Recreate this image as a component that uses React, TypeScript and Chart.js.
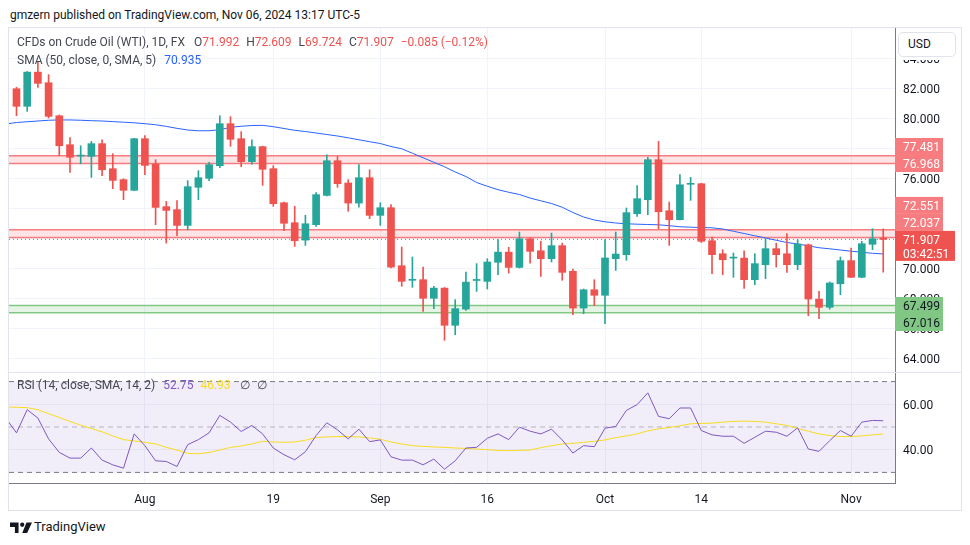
import React, { useEffect, useRef } from "react";
import { Chart, registerables } from "chart.js";

Chart.register(...registerables);

const FONT = "Roboto, 'Noto Sans', sans-serif";
const UP = "#26a69a";
const DOWN = "#ef5350";
const X_MIN = -0.7;
const X_MAX = 82.1;

// x-axis tick positions (bar index) and labels
const tickIndex = [12, 24, 34, 44, 55, 64, 78];
const tickLabels = ["Aug", "19", "Sep", "16", "Oct", "14", "Nov"];

// Daily OHLC, Jul 16 → Nov 6 2024
const opens = [81.95, 80.78, 83.06, 82.35, 80.15, 78.22, 77.46, 77.44, 78.29, 76.62,
  75.89, 75.18, 78.62, 76.93, 74.09, 73.89, 72.84, 75.38, 75.98, 76.82,
  79.62, 78.62, 77.09, 78.09, 76.62, 74.35, 73.02, 71.86, 72.89, 74.84,
  77.15, 75.67, 74.33, 76.02, 73.51, 74.02, 70.15, 69.18, 69.22, 67.98,
  68.66, 66.18, 67.26, 69.17, 69.11, 70.38, 71.06, 70.04, 71.95, 71.15,
  70.62, 71.49, 69.78, 67.33, 68.55, 68.18, 70.62, 70.89, 73.62, 74.55,
  77.22, 73.82, 73.22, 75.58, 75.62, 71.82, 70.95, 70.66, 70.66, 69.22,
  70.22, 71.29, 70.95, 70.22, 71.55, 67.93, 67.38, 68.95, 70.49, 69.38,
  71.58, 71.992];
const highs = [82.05, 83.1, 83.78, 82.89, 80.2, 78.69, 78.15, 78.44, 78.55, 77.62,
  75.95, 78.65, 78.82, 77.22, 74.44, 74.49, 75.82, 76.49, 77.04, 80.15,
  80.09, 79.09, 78.55, 78.12, 76.82, 74.4, 74.11, 73.51, 75.02, 77.55,
  77.44, 75.89, 76.89, 76.55, 74.35, 74.22, 71.4, 70.73, 70.06, 68.78,
  68.7, 67.89, 69.73, 70.29, 70.62, 71.89, 71.38, 72.4, 72.0, 71.78,
  72.33, 71.66, 69.93, 68.6, 69.22, 71.89, 72.4, 74.0, 75.49, 77.38,
  78.44, 74.4, 76.22, 76.04, 75.65, 72.06, 71.22, 71.0, 71.15, 70.95,
  71.95, 71.66, 72.29, 71.89, 71.6, 68.44, 69.07, 70.73, 71.33, 71.78,
  72.62, 72.609];
const lows = [80.15, 80.44, 82.04, 80.0, 77.49, 76.38, 76.95, 76.04, 76.15, 75.29,
  74.55, 75.15, 76.22, 72.89, 71.66, 72.15, 72.55, 74.55, 75.82, 76.69,
  78.11, 76.75, 76.93, 75.51, 74.11, 72.49, 71.44, 71.51, 72.78, 74.8,
  75.38, 73.78, 74.06, 73.29, 72.84, 70.0, 68.78, 68.71, 67.11, 67.29,
  65.18, 65.55, 67.18, 68.44, 68.6, 69.55, 69.66, 70.0, 70.33, 69.44,
  70.4, 69.18, 66.89, 66.95, 67.49, 66.29, 69.84, 70.51, 73.44, 73.55,
  72.62, 71.51, 73.2, 74.51, 71.7, 69.62, 69.55, 69.38, 68.64, 68.89,
  69.29, 70.06, 69.71, 69.89, 66.82, 66.62, 67.26, 68.22, 69.35, 69.35,
  71.22, 69.724];
const closes = [80.78, 83.06, 82.31, 80.11, 78.15, 77.38, 77.5, 78.29, 76.55, 75.84,
  75.18, 78.62, 76.84, 74.04, 73.84, 72.84, 75.42, 76.02, 76.89, 79.62,
  78.58, 77.09, 78.09, 76.58, 74.29, 72.98, 71.82, 72.95, 74.89, 77.15,
  75.62, 74.33, 76.02, 73.51, 74.02, 70.06, 69.11, 69.22, 67.98, 68.66,
  66.18, 67.29, 69.06, 69.22, 70.4, 71.06, 70.04, 71.95, 71.11, 70.62,
  71.49, 69.71, 67.33, 68.55, 68.18, 70.67, 70.93, 73.69, 74.62, 77.22,
  73.75, 73.22, 75.55, 75.62, 71.78, 70.89, 70.55, 70.7, 69.22, 70.29,
  71.29, 70.89, 70.22, 71.6, 67.93, 67.38, 69.0, 70.49, 69.38, 71.62,
  71.95, 71.907];

// SMA(50) values, first entry is the bar before the first visible one
const SERIES_START = -1;
const sma50 = [79.6,
  79.7, 79.75, 79.8, 79.85, 79.87, 79.87, 79.85, 79.82, 79.8, 79.76,
  79.72, 79.68, 79.62, 79.55, 79.44, 79.31, 79.2, 79.15, 79.15, 79.22,
  79.38, 79.45, 79.5, 79.51, 79.42, 79.3, 79.18, 79.1, 79.0, 78.9,
  78.8, 78.68, 78.55, 78.42, 78.3, 78.1, 77.95, 77.65, 77.35, 77.05,
  76.75, 76.4, 76.1, 75.7, 75.45, 75.22, 75.05, 74.9, 74.66, 74.48,
  74.3, 74.05, 73.7, 73.4, 73.2, 73.08, 73.0, 72.95, 72.92, 72.9,
  72.88, 72.82, 72.75, 72.72, 72.7, 72.68, 72.6, 72.45, 72.3, 72.15,
  72.0, 71.85, 71.7, 71.6, 71.48, 71.35, 71.28, 71.2, 71.12, 71.05,
  70.98, 70.935];

// RSI(14) and its SMA(14)
const rsi = [53.9,
  47.41, 57.63, 53.93, 44.74, 38.81, 36.3, 36.3, 40.74, 35.41, 33.33,
  31.85, 46.96, 41.78, 35.11, 34.81, 32.59, 42.22, 44.44, 47.41, 55.11,
  52.15, 48.0, 50.67, 46.96, 40.74, 37.78, 35.56, 39.11, 46.22, 51.85,
  48.74, 44.74, 49.04, 43.56, 44.3, 36.89, 35.41, 35.41, 33.33, 35.85,
  31.41, 35.11, 40.74, 41.04, 45.04, 46.96, 44.44, 49.93, 48.15, 46.96,
  49.04, 44.3, 38.52, 41.78, 41.33, 49.48, 50.22, 57.33, 59.85, 65.04,
  54.67, 53.63, 58.37, 58.37, 48.44, 46.52, 45.93, 45.93, 42.81, 45.48,
  48.15, 47.7, 45.93, 49.63, 40.3, 39.26, 44.0, 48.44, 45.93, 52.15,
  52.89, 52.75];
const rsiMa = [58.8,
  58.67, 58.5, 57.6, 55.85, 54.2, 52.44, 50.81, 49.33, 47.85, 46.07,
  44.44, 43.85, 43.26, 42.52, 41.04, 39.85, 38.37, 38.22, 38.81, 39.85,
  41.04, 41.63, 42.52, 43.7, 43.4, 43.26, 43.4, 44.15, 45.33, 45.63,
  45.78, 45.78, 45.63, 45.19, 44.59, 43.4, 42.52, 41.78, 41.48, 41.19,
  41.04, 40.74, 40.59, 40.3, 40.0, 39.7, 39.56, 39.7, 39.85, 40.89,
  41.78, 42.52, 42.81, 43.26, 43.7, 44.3, 45.33, 46.07, 46.96, 48.3,
  49.19, 49.78, 50.52, 51.41, 51.56, 51.7, 52.15, 52.44, 52.59, 52.44,
  52.15, 51.41, 50.67, 49.33, 48.15, 46.96, 46.22, 45.78, 45.78, 46.07,
  46.52, 46.93];

const resistanceZones = [[76.968, 77.481], [72.037, 72.551]];
const supportZones = [[67.016, 67.499]];
const lastPrice = 71.907;
const countdown = "03:42:51";
const priceTicks = [64, 66, 68, 70, 72, 74, 76, 78, 80, 82, 84];
const rsiTicks = [40, 60];
const rsiBand = [30, 70];
const rsiMid = 50;

const RED_ZONE_LINE = "#f77c80";
const RED_ZONE_FILL = "rgba(247,124,128,0.2)";
const GREEN_ZONE_LINE = "#81c784";
const GREEN_ZONE_FILL = "rgba(129,199,132,0.2)";
const GRID = "#f0f3fa";
const AXIS_LINE = "#787b86";
const TEXT = "#131722";

const hLine = (y: number) => [{ x: X_MIN, y }, { x: X_MAX, y }];

const priceLabelPlugin = {
  id: "priceLabels",
  afterDraw(chart: any) {
    const ctx = chart.ctx;
    const ys = chart.scales.y;
    const x0 = chart.chartArea.right;
    const H = 17;
    ctx.save();
    ctx.font = `12px ${FONT}`;
    ctx.textBaseline = "middle";
    ctx.textAlign = "left";
    const cy = ys.getPixelForValue(lastPrice);
    const curTop = cy - 8.5;
    const curBot = curTop + 30;
    const items: { v: number; bg: string; fg: string }[] = [];
    resistanceZones.forEach((z) => z.forEach((v) => items.push({ v, bg: RED_ZONE_LINE, fg: "#ffffff" })));
    supportZones.forEach((z) => z.forEach((v) => items.push({ v, bg: GREEN_ZONE_LINE, fg: TEXT })));
    const drawBox = (c: number, it: { v: number; bg: string; fg: string }) => {
      ctx.fillStyle = it.bg;
      ctx.fillRect(x0, c - H / 2, 48, H);
      ctx.fillStyle = it.fg;
      ctx.fillText(it.v.toFixed(3), x0 + 8, c + 1.5);
    };
    const above = items.filter((i) => i.v > lastPrice).sort((a, b) => a.v - b.v);
    let limit = curTop;
    above.forEach((it) => {
      let c = ys.getPixelForValue(it.v);
      if (c + H / 2 > limit) c = limit - H / 2;
      drawBox(c, it);
      limit = c - H / 2;
    });
    const below = items.filter((i) => i.v < lastPrice).sort((a, b) => b.v - a.v);
    let limitB = curBot;
    below.forEach((it) => {
      let c = ys.getPixelForValue(it.v);
      if (c - H / 2 < limitB) c = limitB + H / 2;
      drawBox(c, it);
      limitB = c + H / 2;
    });
    ctx.fillStyle = DOWN;
    ctx.fillRect(x0, curTop, 60, 30);
    ctx.fillStyle = "#ffffff";
    ctx.fillText(lastPrice.toFixed(3), x0 + 8, cy + 1.5);
    ctx.fillText(countdown, x0 + 8, cy + 15.5);
    ctx.restore();
  },
};

export default function App() {
  const priceRef = useRef<HTMLCanvasElement | null>(null);
  const rsiRef = useRef<HTMLCanvasElement | null>(null);

  useEffect(() => {
    const n = opens.length;
    const idx = Array.from({ length: n }, (_, i) => i);
    const colors = idx.map((i) => (closes[i] >= opens[i] ? UP : DOWN));

    const zoneSets: any[] = [];
    const addZone = (lo: number, hi: number, line: string, fill: string) => {
      zoneSets.push({ type: "line", data: hLine(lo), borderColor: line, borderWidth: 1.5, pointRadius: 0, fill: false, order: 10 });
      zoneSets.push({ type: "line", data: hLine(hi), borderColor: line, borderWidth: 1.5, pointRadius: 0, fill: "-1", backgroundColor: fill, order: 10 });
    };
    resistanceZones.forEach(([lo, hi]) => addZone(lo, hi, RED_ZONE_LINE, RED_ZONE_FILL));
    supportZones.forEach(([lo, hi]) => addZone(lo, hi, GREEN_ZONE_LINE, GREEN_ZONE_FILL));

    const xScale = (showLabels: boolean) => ({
      type: "linear",
      min: X_MIN,
      max: X_MAX,
      offset: false,
      afterBuildTicks: (s: any) => {
        s.ticks = tickIndex.map((v) => ({ value: v }));
      },
      afterFit: (s: any) => {
        s.paddingLeft = 0;
        s.paddingRight = 0;
        if (!showLabels) s.height = 0;
        else s.height = 27;
      },
      grid: { color: GRID, offset: false, drawTicks: false },
      border: { display: showLabels, color: AXIS_LINE },
      ticks: {
        display: showLabels,
        autoSkip: false,
        maxRotation: 0,
        padding: 10,
        color: TEXT,
        font: { family: FONT, size: 12 },
        callback: (_v: any, i: number) => tickLabels[i],
      },
    });

    const yTicks = (digits: number) => ({
      padding: 8,
      labelOffset: 1.5,
      color: TEXT,
      font: { family: FONT, size: 12 },
      callback: (v: any) => Number(v).toFixed(digits),
    });

    const price = new Chart(priceRef.current as HTMLCanvasElement, {
      type: "bar",
      data: {
        datasets: [
          ...zoneSets,
          {
            type: "line",
            data: hLine(lastPrice),
            borderColor: DOWN,
            borderWidth: 1,
            borderDash: [1, 3],
            pointRadius: 0,
            fill: false,
            order: 9,
          },
          {
            type: "line",
            data: sma50.map((v, k) => ({ x: k + SERIES_START, y: v })),
            borderColor: "#2962ff",
            borderWidth: 1,
            pointRadius: 0,
            fill: false,
            order: 5,
          },
          {
            type: "bar",
            data: idx.map((i) => ({ x: i, y: [lows[i], highs[i]] })),
            backgroundColor: colors,
            barThickness: 1,
            grouped: false,
            order: 2,
          },
          {
            type: "bar",
            data: idx.map((i) => ({ x: i, y: [opens[i], closes[i]] })),
            backgroundColor: colors,
            barThickness: 7,
            minBarLength: 1,
            grouped: false,
            order: 1,
          },
        ] as any,
      },
      options: {
        animation: false,
        responsive: false,
        events: [],
        layout: { padding: 0 },
        plugins: { legend: { display: false }, tooltip: { enabled: false } },
        scales: {
          x: xScale(false) as any,
          y: {
            type: "linear",
            position: "right",
            min: 63.067,
            max: 86.0,
            beginAtZero: false,
            afterBuildTicks: (s: any) => {
              s.ticks = priceTicks.map((v) => ({ value: v }));
            },
            afterFit: (s: any) => {
              s.width = 66;
              s.paddingTop = 0;
              s.paddingBottom = 0;
            },
            grid: { color: GRID, drawTicks: false },
            border: { color: AXIS_LINE },
            ticks: yTicks(3) as any,
          },
        },
      },
      plugins: [priceLabelPlugin],
    });

    const rsiChart = new Chart(rsiRef.current as HTMLCanvasElement, {
      type: "line",
      data: {
        datasets: [
          { data: hLine(rsiBand[0]), borderColor: AXIS_LINE, borderWidth: 1, borderDash: [5, 4], pointRadius: 0, fill: false, order: 10 },
          { data: hLine(rsiBand[1]), borderColor: AXIS_LINE, borderWidth: 1, borderDash: [5, 4], pointRadius: 0, fill: "-1", backgroundColor: "rgba(126,87,194,0.1)", order: 10 },
          { data: hLine(rsiMid), borderColor: "rgba(120,123,134,0.5)", borderWidth: 1, borderDash: [5, 4], pointRadius: 0, fill: false, order: 9 },
          { data: rsiMa.map((v, k) => ({ x: k + SERIES_START, y: v })), borderColor: "#f7dc1e", borderWidth: 1, pointRadius: 0, fill: false, order: 3 },
          { data: rsi.map((v, k) => ({ x: k + SERIES_START, y: v })), borderColor: "#7e57c2", borderWidth: 1, pointRadius: 0, fill: false, order: 2 },
        ] as any,
      },
      options: {
        animation: false,
        responsive: false,
        events: [],
        layout: { padding: 0 },
        plugins: { legend: { display: false }, tooltip: { enabled: false } },
        scales: {
          x: xScale(true) as any,
          y: {
            type: "linear",
            position: "right",
            min: 25.33,
            max: 73.78,
            afterBuildTicks: (s: any) => {
              s.ticks = rsiTicks.map((v) => ({ value: v }));
            },
            afterFit: (s: any) => {
              s.width = 66;
              s.paddingTop = 0;
              s.paddingBottom = 0;
            },
            grid: { color: GRID, drawTicks: false },
            border: { color: AXIS_LINE },
            ticks: yTicks(2) as any,
          },
        },
      },
    });

    return () => {
      price.destroy();
      rsiChart.destroy();
    };
  }, []);

  const legendStyle: React.CSSProperties = {
    position: "absolute",
    fontFamily: FONT,
    fontSize: 12,
    color: "#434651",
    whiteSpace: "nowrap",
    lineHeight: "16px",
  };
  const red = { color: DOWN };

  return (
    <div style={{ position: "fixed", left: 0, top: 0, width: 970, height: 545, background: "#ffffff", fontFamily: FONT, overflow: "hidden" }}>
      <div style={{ position: "absolute", left: 10, top: 7, fontSize: 12, color: TEXT, lineHeight: "16px", whiteSpace: "nowrap" }}>
        gmzern published on TradingView.com, Nov 06, 2024 13:17 UTC-5
      </div>
      <div style={{ position: "absolute", left: 8, top: 27, width: 954, height: 484, boxSizing: "border-box", border: "1px solid #e0e3eb" }} />
      <canvas ref={priceRef} width={952} height={344} style={{ position: "absolute", left: 9, top: 28, width: 952, height: 344 }} />
      <div style={{ position: "absolute", left: 9, top: 372, width: 952, height: 1, background: "#e0e3eb" }} />
      <canvas ref={rsiRef} width={952} height={137} style={{ position: "absolute", left: 9, top: 373, width: 952, height: 137 }} />

      <div style={{ ...legendStyle, left: 17, top: 34 }}>
        CFDs on Crude Oil (WTI), 1D, FX
        <span style={{ marginLeft: 9 }}>O</span><span style={red}>71.992</span>
        <span style={{ marginLeft: 7 }}>H</span><span style={red}>72.609</span>
        <span style={{ marginLeft: 7 }}>L</span><span style={red}>69.724</span>
        <span style={{ marginLeft: 7 }}>C</span><span style={red}>71.907</span>
        <span style={{ ...red, marginLeft: 7 }}>−0.085 (−0.12%)</span>
      </div>
      <div style={{ ...legendStyle, left: 17, top: 52 }}>
        SMA (50, close, 0, SMA, 5)<span style={{ color: "#2962ff", marginLeft: 8 }}>70.935</span>
      </div>
      <div style={{ ...legendStyle, left: 17, top: 377 }}>
        RSI (14, close, SMA, 14, 2)
        <span style={{ color: "#7e57c2", marginLeft: 8 }}>52.75</span>
        <span style={{ color: "#f7dc1e", marginLeft: 7 }}>46.93</span>
        <span style={{ marginLeft: 9 }}>∅</span>
        <span style={{ marginLeft: 7 }}>∅</span>
      </div>

      <div style={{ position: "absolute", left: 896, top: 28, width: 65, height: 32, background: "#fff" }} />
      <div style={{ position: "absolute", left: 898, top: 32, width: 58, height: 25, boxSizing: "border-box", border: "1px solid #e0e3eb", borderRadius: 5, background: "#fff", fontSize: 12, color: TEXT, lineHeight: "23px", paddingLeft: 9 }}>
        USD
      </div>

      <svg style={{ position: "absolute", left: 10, top: 522 }} width={22} height={11} viewBox="0 0 36 18">
        <path d="M14 18H8V8H0V1h14v17zM28 18h-8l7-17H36L28 18z" fill={TEXT} />
        <circle cx="20" cy="4.5" r="3.5" fill={TEXT} />
      </svg>
      <div style={{ position: "absolute", left: 34, top: 519, fontSize: 13, color: TEXT, lineHeight: "16px" }}>TradingView</div>
    </div>
  );
}
